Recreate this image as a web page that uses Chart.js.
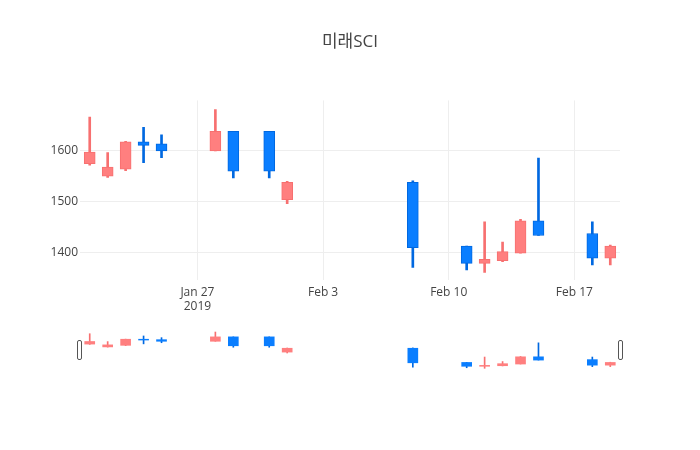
<!DOCTYPE html>
<html>
<head>
<meta charset="utf-8">
<script src="https://cdn.jsdelivr.net/npm/chart.js@4.4.1/dist/chart.umd.min.js"></script>
<style>
  html, body { margin: 0; padding: 0; background: #fff; }
  #wrap { position: relative; width: 700px; height: 450px; }
  #main { position: absolute; left: 0; top: 0; }
  #slider { position: absolute; left: 0; top: 330px; }
  .grab { position: absolute; top: 340px; width: 3px; height: 18px; border: 1px solid #555; border-radius: 2px; background: #fff; }
</style>
</head>
<body>
<div id="wrap">
  <canvas id="main" width="700" height="450"></canvas>
  <canvas id="slider" width="700" height="40"></canvas>
  <div class="grab" style="left:77px"></div>
  <div class="grab" style="left:618px"></div>
</div>
<script>
const title = '미래SCI';
const dates = ['2019-01-21','2019-01-22','2019-01-23','2019-01-24','2019-01-25','2019-01-28','2019-01-29','2019-01-31','2019-02-01','2019-02-08','2019-02-11','2019-02-12','2019-02-13','2019-02-14','2019-02-15','2019-02-18','2019-02-19'];
const openV  = [1575,1550,1564,1618,1614,1600,1639,1639,1504,1538,1412,1378,1383,1398,1462,1437,1388];
const highV  = [1667,1597,1619,1647,1632,1682,1639,1639,1540,1541,1412,1460,1420,1465,1586,1460,1414];
const lowV   = [1572,1548,1561,1577,1587,1600,1547,1547,1496,1370,1365,1360,1381,1398,1433,1375,1375];
const closeV = [1598,1568,1618,1611,1600,1639,1560,1560,1538,1409,1378,1386,1401,1462,1433,1388,1412];
const yTicks = [1400, 1500, 1600];
const xTickDates = ['2019-01-27','2019-02-03','2019-02-10','2019-02-17'];
const xTickLabels = [['Jan 27','2019'], 'Feb 3', 'Feb 10', 'Feb 17'];
const xRangeDates = ['2019-01-20T11:00','2019-02-19T13:00'];
const yRange = [1345, 1700];

const DAY = 86400000;
const base = Date.parse('2019-01-27T00:00:00Z');
const toDay = s => (Date.parse(s.length > 10 ? s + ':00Z' : s + 'T00:00:00Z') - base) / DAY;
const xs = dates.map(toDay);
const up = openV.map((o, i) => closeV[i] >= o);
const UP_FILL = '#FF7F7F', UP_LINE = '#F77070';
const DN_FILL = '#0A7EFF', DN_LINE = '#0068E0';

const bodies = xs.map((x, i) => ({ x, y: [openV[i], closeV[i]] }));
const wicks = xs.map((x, i) => ({ x, y: [lowV[i], highV[i]] }));
const fill = c => up[c.dataIndex] ? UP_FILL : DN_FILL;
const line = c => up[c.dataIndex] ? UP_LINE : DN_LINE;

const FONT = "'Open Sans', 'Noto Sans CJK KR', sans-serif";
const xMin = toDay(xRangeDates[0]), xMax = toDay(xRangeDates[1]);
const tickDays = xTickDates.map(toDay);

function datasets(bodyW, wickW, bw) {
  return [
    { label: 'body', data: bodies, grouped: false, barThickness: bodyW,
      backgroundColor: fill, borderColor: line, borderWidth: bw, borderSkipped: false },
    { label: 'wick', data: wicks, grouped: false, barThickness: wickW,
      backgroundColor: line, borderWidth: 0 }
  ];
}

new Chart(document.getElementById('main'), {
  type: 'bar',
  data: { datasets: datasets(11, 2, 1) },
  options: {
    responsive: false, animation: false,
    layout: { padding: 0 },
    plugins: {
      legend: { display: false }, tooltip: { enabled: false },
      title: { display: true, text: title, color: '#444',
        font: { family: FONT, size: 17, weight: 'normal' },
        padding: { top: 32, bottom: 48 } }
    },
    scales: {
      x: {
        type: 'linear', min: xMin, max: xMax, offset: false,
        afterFit: s => { s.height = 170; },
        afterBuildTicks: s => { s.ticks = tickDays.map(v => ({ value: v })); },
        grid: { color: '#eee', drawTicks: false, offset: false },
        border: { display: false },
        ticks: { color: '#444', padding: 5, maxRotation: 0, autoSkip: false,
          font: { family: FONT, size: 12, lineHeight: 1.2 },
          callback: (v) => { const k = tickDays.indexOf(v); return k >= 0 ? xTickLabels[k] : ''; } }
      },
      y: {
        type: 'linear', min: yRange[0], max: yRange[1], position: 'left',
        afterFit: s => { s.width = 80; },
        afterBuildTicks: s => { s.ticks = yTicks.map(v => ({ value: v })); },
        grid: { color: '#eee', drawTicks: false },
        border: { display: false },
        ticks: { color: '#444', padding: 2, font: { family: FONT, size: 12 },
          callback: v => String(v) }
      },
      yR: {
        type: 'linear', position: 'right', display: true,
        afterFit: s => { s.width = 80; },
        grid: { display: false, drawTicks: false }, border: { display: false },
        ticks: { display: false }
      }
    }
  }
});

new Chart(document.getElementById('slider'), {
  type: 'bar',
  data: { datasets: datasets(10, 1, 0) },
  options: {
    responsive: false, animation: false,
    layout: { padding: { left: 80, right: 80, top: 0, bottom: 0 } },
    plugins: { legend: { display: false }, tooltip: { enabled: false }, title: { display: false } },
    scales: {
      x: { type: 'linear', min: xMin, max: xMax, offset: false, display: false },
      y: { type: 'linear', min: yRange[0], max: yRange[1], display: false }
    }
  }
});
</script>
</body>
</html>
